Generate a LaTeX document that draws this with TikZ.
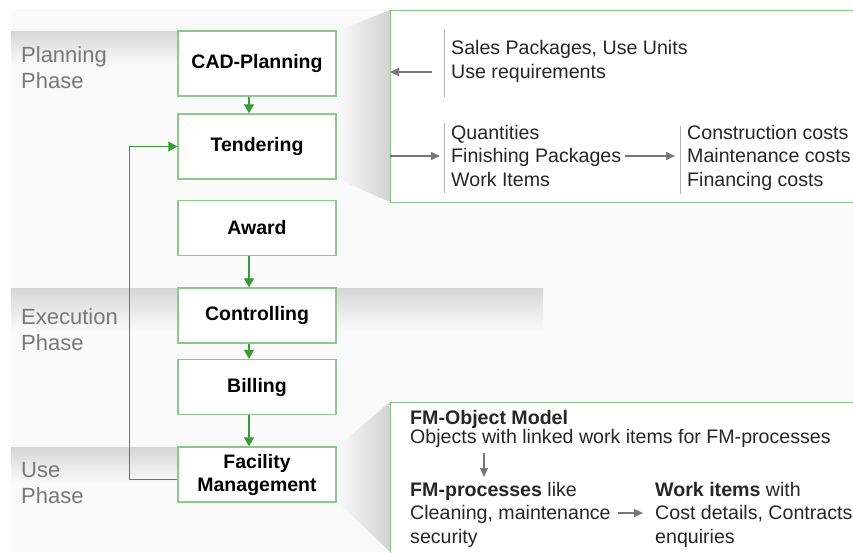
\documentclass[tikz,border=0pt]{standalone}
\usepackage{fontspec}
\setmainfont{Liberation Sans}
\usetikzlibrary{arrows.meta,positioning}
\definecolor{boxgreen}{RGB}{140,200,140}
\definecolor{flowgreen}{RGB}{55,155,55}
\definecolor{arrowgray}{RGB}{120,120,120}
\definecolor{phasegray}{RGB}{120,120,120}
\definecolor{bandgray}{RGB}{214,214,214}
\definecolor{paper}{RGB}{250,250,250}

\begin{document}
\begin{tikzpicture}[x=1pt, y=-1pt,
    every node/.style={font=\fontsize{19.6}{23.5}\selectfont},
    stage/.style={draw=boxgreen, line width=1.4pt, fill=white, minimum width=158pt,
        inner sep=0pt, align=center, font=\fontsize{19.5}{23}\selectfont\bfseries},
    flow/.style={flowgreen, line width=1.2pt, -{Triangle[length=9pt,width=10pt]}},
    link/.style={arrowgray, line width=1.2pt, -{Triangle[length=9pt,width=8pt]}},
    phase/.style={text=phasegray, font=\fontsize{22}{26}\selectfont, align=left,
        anchor=base west, inner sep=0pt},
    info/.style={align=left, anchor=base west, inner sep=0pt, text=black!85},
    sep/.style={gray!60, line width=0.8pt},
    callout/.style={draw=boxgreen, line width=1.2pt, fill=white, anchor=north west, inner sep=0pt}]

\useasboundingbox (0,0) rectangle (853,552);
\fill[paper] (11,9) rectangle (853,552);

% Phase bands (labels sit on their last baseline)
\shade[top color=bandgray, bottom color=paper] (11,31) rectangle (178,64);
\shade[top color=bandgray, bottom color=paper] (11,288) rectangle (543,330);
\shade[top color=bandgray, bottom color=paper] (11,447) rectangle (178,482);

\node[phase] (planning) at (21,88) {Planning\\Phase};
\node[phase] (execution) at (21,350) {Execution\\Phase};
\node[phase] (use) at (21,503) {Use\\Phase};

% Zoom wedges towards the detail boxes
\shade[left color=paper, right color=gray!35] (337,31) -- (390,10) -- (390,202) -- (337,179) -- cycle;
\shade[left color=paper, right color=gray!35] (337,447) -- (390,402) -- (390,552) -- (337,501) -- cycle;

% Process steps
\node[stage, minimum height=65pt] (cad) at (257,63.5) {CAD-Planning};
\node[stage, minimum height=65pt] (tender) at (257,146.5) {Tendering};
\node[stage, minimum height=55pt] (award) at (257,228) {Award};
\node[stage, minimum height=55pt] (control) at (257,315.5) {Controlling};
\node[stage, minimum height=55pt] (billing) at (257,387) {Billing};
\node[stage, minimum height=55pt] (fm) at (257,474.5) {Facility\\Management};

\draw[flow] ([xshift=-8pt]cad.south) -- ([xshift=-8pt]tender.north);
\draw[flow] ([xshift=-8pt]award.south) -- ([xshift=-8pt]control.north);
\draw[flow] ([xshift=-8pt]control.south) -- ([xshift=-8pt]billing.north);
\draw[flow] ([xshift=-8pt]billing.south) -- ([xshift=-8pt]fm.north);
\draw[flow] ([yshift=-5pt]fm.west) -- ++(-48,0) |- (tender.west);

% Planning details
\node[callout, minimum width=470pt, minimum height=192pt] (cadinfo) at (390,10) {};

\node[info] (sales) at (451,78) {Sales Packages, Use Units\\Use requirements};
\draw[sep] (444,29) -- (444,97);
\coordinate (salesout) at (432,72);
\draw[link] (salesout) -- (salesout -| cadinfo.west);

\node[info] (quant) at (451,186) {Quantities\\Finishing Packages\\Work Items};
\draw[sep] (444,123) -- (444,193);
\coordinate (quantin) at (440,156);
\draw[link] (quantin -| cadinfo.west) -- (quantin);

\node[info] (costs) at (687,186) {Construction costs\\Maintenance costs\\Financing costs};
\draw[sep] (680,126) -- (680,194);
\coordinate (costsout) at (625,156);
\coordinate (costsin) at (675,156);
\draw[link] (costsout) -- (costsin);

% Facility management details
\node[callout, minimum width=470pt, minimum height=160pt] (fminfo) at (390,402) {};

\node[info, font=\fontsize{19.6}{18.5}\selectfont] (fmmodel) at (410,443)
    {\textbf{FM-Object Model}\\Objects with linked work items for FM-processes};
\coordinate (modelout) at (484,453);
\coordinate (procin) at (484,477);
\draw[link] (modelout) -- (procin);

\node[info] (fmproc) at (410,543) {\textbf{FM-processes} like\\Cleaning, maintenance\\security};
\node[info] (workitems) at (655,543) {\textbf{Work items} with\\Cost details, Contracts\\enquiries};
\coordinate (procout) at (618,513);
\coordinate (workin) at (643,513);
\draw[link] (procout) -- (workin);

\end{tikzpicture}
\end{document}
